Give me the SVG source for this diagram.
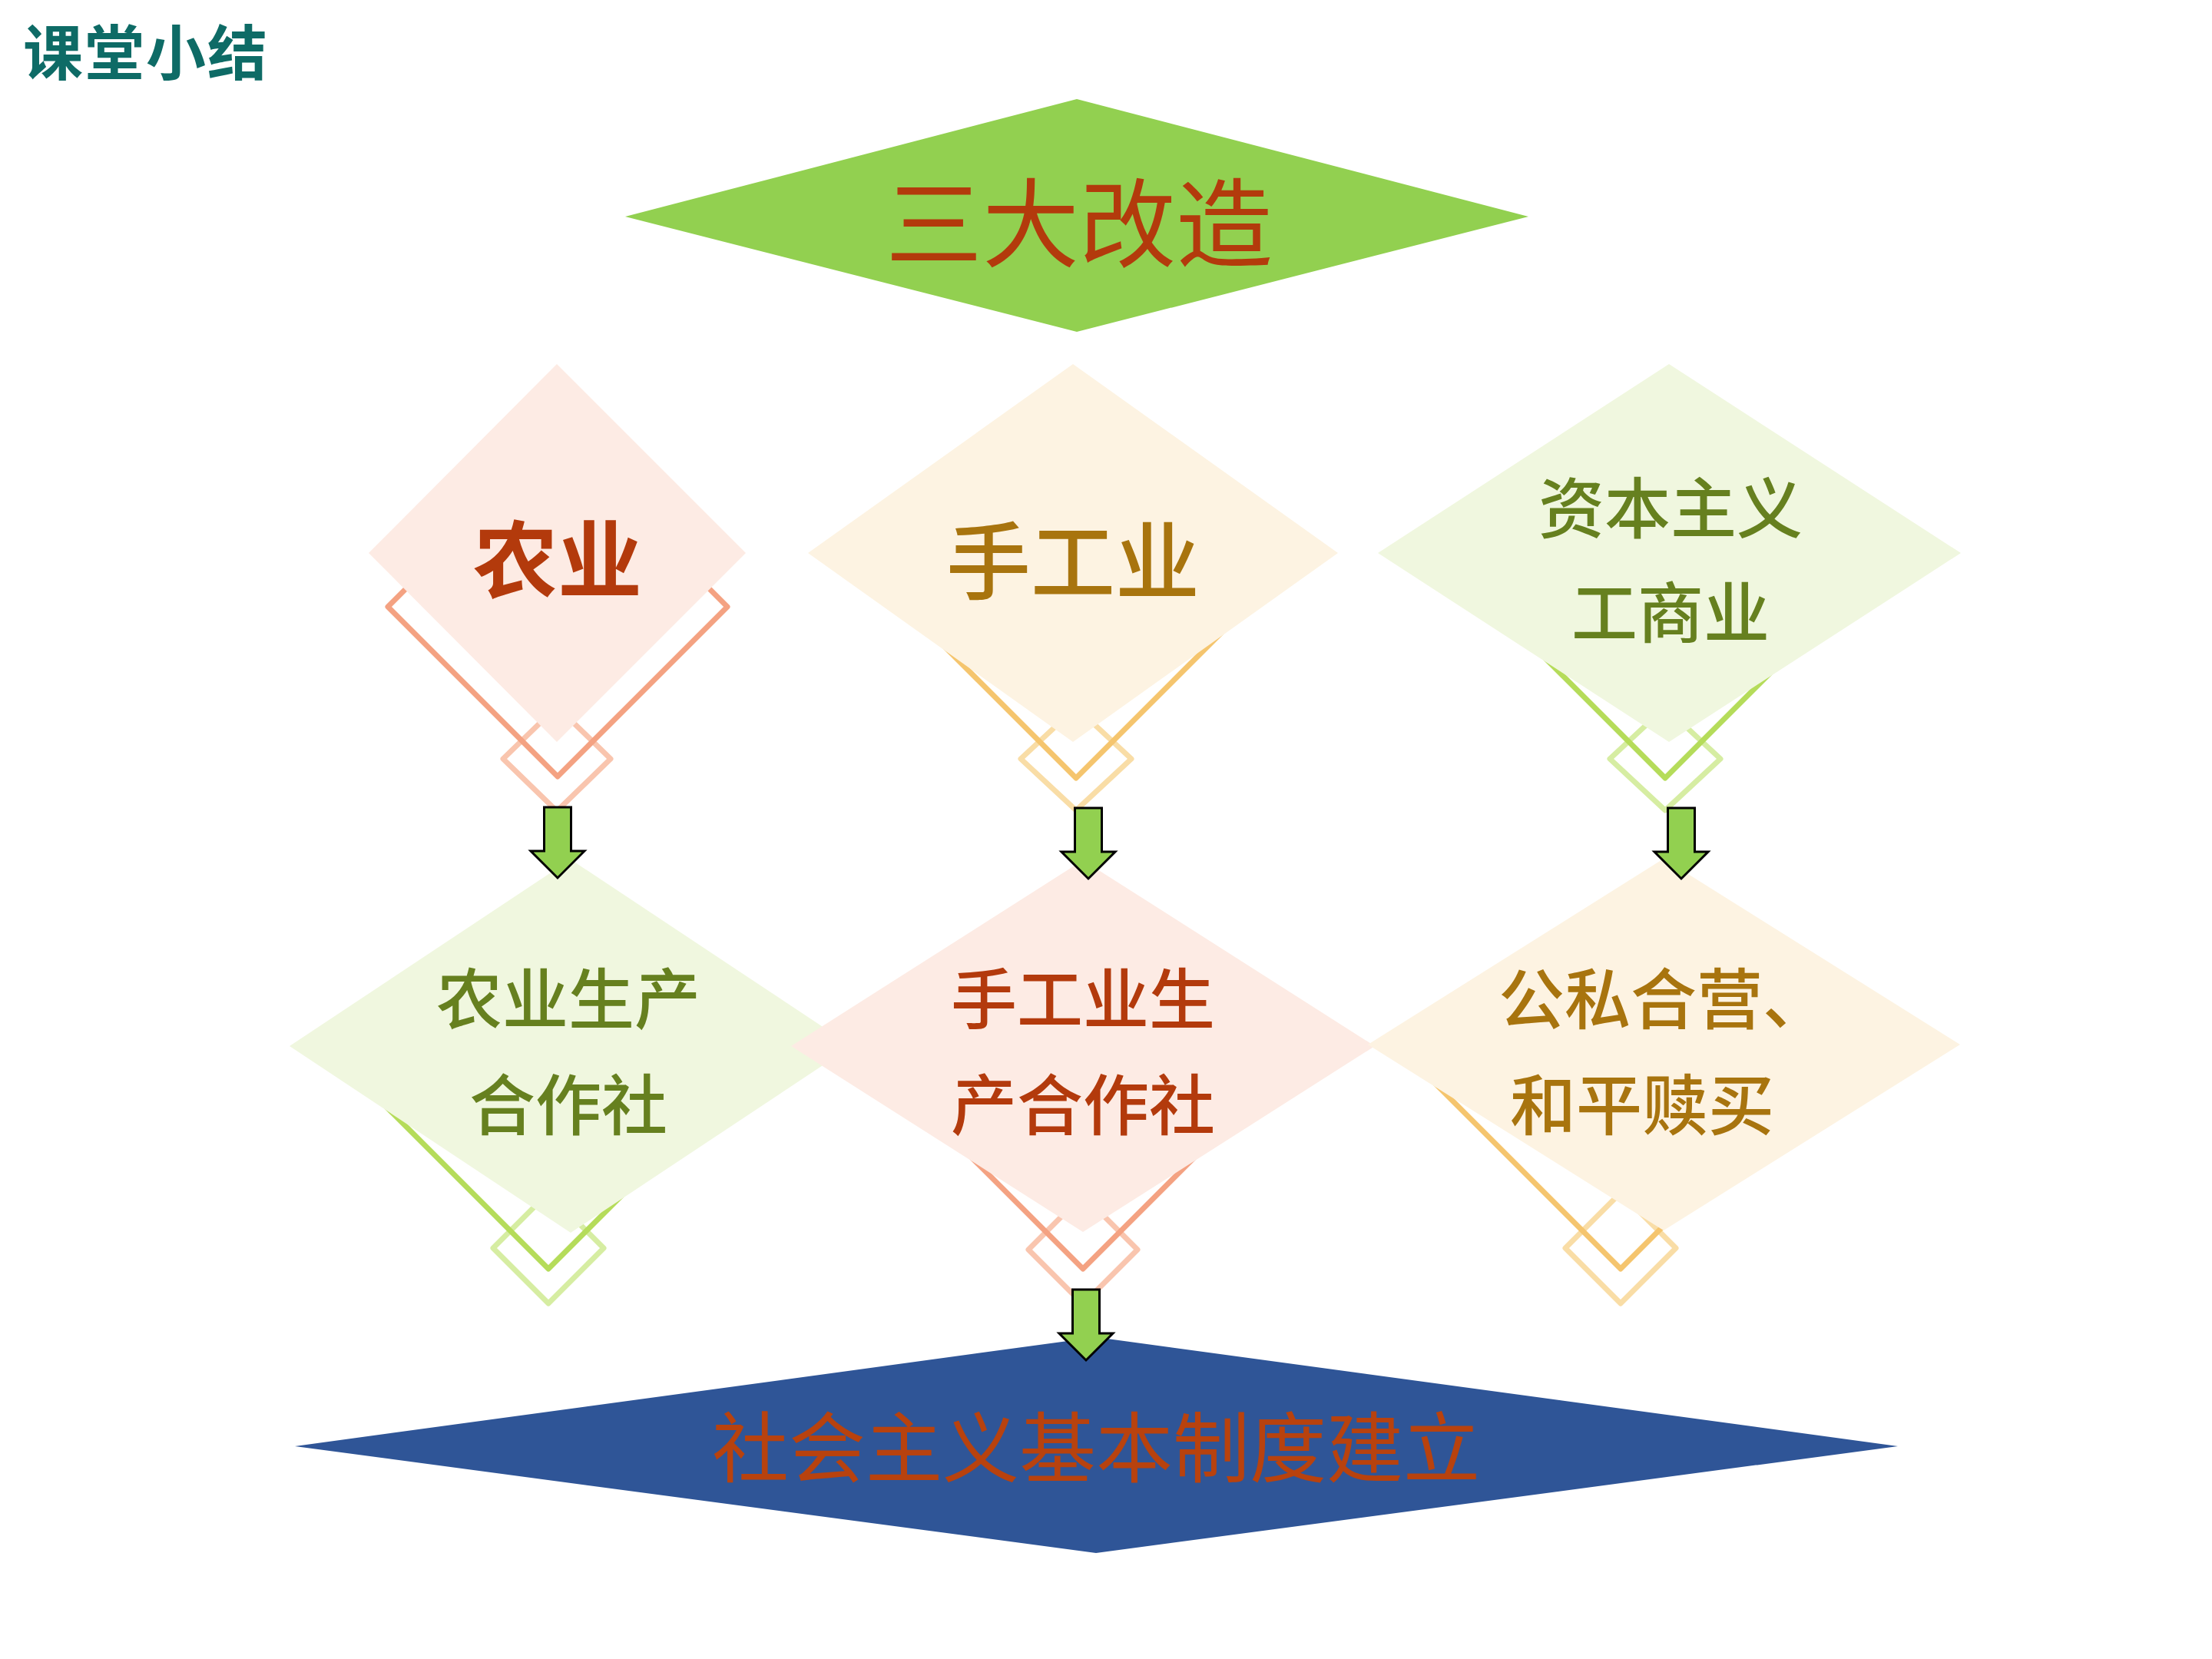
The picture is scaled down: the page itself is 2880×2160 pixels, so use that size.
<svg xmlns="http://www.w3.org/2000/svg" width="2880" height="2160" viewBox="0 0 2880 2160">
<defs>
<style>
.t{font-family:"Noto Sans CJK SC","Noto Sans",sans-serif;text-anchor:middle;dominant-baseline:central}
.m{font-weight:500}
.red{fill:#B33A0C}
.gold{fill:#A8740E}
.olive{fill:#66801F}
.pk{fill:#FDEBE4}
.cr{fill:#FDF3E2}
.gr{fill:#F0F7DF}
.fr{fill:none;stroke-width:7;stroke-linejoin:round;stroke-linecap:round}
.s1{stroke:#F4A282}.s2{stroke:#F9C5AE}
.g1{stroke:#F5C56E}.g2{stroke:#F9DDA6}
.e1{stroke:#B5DC5A}.e2{stroke:#D6EDA2}
.arr{fill:#92D050;stroke:#000;stroke-width:3;stroke-linejoin:miter}
</style>
<path id="arrow" d="M -17.5 0 H 17.5 V 57 H 35 L 0 92 L -35 57 H -17.5 Z"/>
</defs>
<rect width="2880" height="2160" fill="#FFFFFF"/>

<g id="title">
<text class="t" x="190" y="64" font-size="78" font-weight="bold" fill="#0E6B66" letter-spacing="2">课堂小结</text>
</g>

<g id="node-top">
<polygon points="814,282 1402,129 1990,282 1402,432" fill="#92D050"/>
<text class="t red" x="1405" y="283" font-size="126">三大改造</text>
</g>

<g id="node-agri">
<polygon class="fr s2" points="725,920 795,988 725,1056 655,988"/>
<polygon class="fr s1" points="726,569 947,790 726,1011 505,790"/>
<polygon class="pk" points="725,474 971,720 725,966 480,720"/>
<text class="t red" x="726" y="722" font-size="110" font-weight="bold">农业</text>
</g>

<g id="node-handicraft">
<polygon class="fr g2" points="1401,921 1473,988 1401,1055 1329,988"/>
<path class="fr g1" d="M 1161 773 L 1401 1013 L 1641 773"/>
<polygon class="cr" points="1397,474 1742,720 1397,966 1052,720"/>
<text class="t gold m" x="1397" y="724" font-size="110">手工业</text>
</g>

<g id="node-capital">
<polygon class="fr e2" points="2168,921 2240,988 2168,1055 2096,988"/>
<path class="fr e1" d="M 1928 773 L 2168 1013 L 2408 773"/>
<polygon class="gr" points="2173,474 2553,720 2173,966 1794,720"/>
<text class="t olive m" x="2175" y="656" font-size="86">资本主义</text>
<text class="t olive m" x="2175" y="792" font-size="86">工商业</text>
</g>

<g id="node-agri-coop">
<polygon class="fr e2" points="714,1553 786,1625 714,1697 642,1625"/>
<path class="fr e1" d="M 474 1412 L 714 1652 L 914 1452"/>
<polygon class="gr" points="743,1119 1109,1362 743,1605 377,1362"/>
<text class="t olive m" x="740" y="1295" font-size="86">农业生产</text>
<text class="t olive m" x="740" y="1433" font-size="86">合作社</text>
</g>

<g id="node-hand-coop">
<polygon class="fr s2" points="1410,1556 1481,1627 1410,1698 1339,1627"/>
<path class="fr s1" d="M 1170 1412 L 1410 1652 L 1650 1412"/>
<polygon class="pk" points="1410,1120 1790,1362 1410,1604 1030,1362"/>
<text class="t red m" x="1410" y="1295" font-size="86">手工业生</text>
<text class="t red m" x="1410" y="1433" font-size="86">产合作社</text>
</g>

<g id="node-jointventure">
<polygon class="fr g2" points="2110,1553 2182,1625 2110,1697 2038,1625"/>
<path class="fr g1" d="M 1840 1382 L 2110 1652 L 2200 1562"/>
<polygon class="cr" points="2166,1118 2552,1360 2166,1602 1781,1360"/>
<text class="t gold m" x="2166" y="1295" font-size="86">公私合营、</text>
<text class="t gold m" x="2138" y="1433" font-size="86">和平赎买</text>
</g>

<g id="node-bottom">
<polygon points="384,1883 1427,1741 2471,1883 1427,2022" fill="#2F5597"/>
<text class="t" x="1427" y="1878" font-size="100" fill="#B8420E">社会主义基本制度建立</text>
</g>

<g id="connectors">
<use href="#arrow" class="arr" transform="translate(726,1051)"/>
<use href="#arrow" class="arr" transform="translate(1417,1052)"/>
<use href="#arrow" class="arr" transform="translate(2189,1052)"/>
<use href="#arrow" class="arr" transform="translate(1414,1679)"/>
</g>
</svg>
